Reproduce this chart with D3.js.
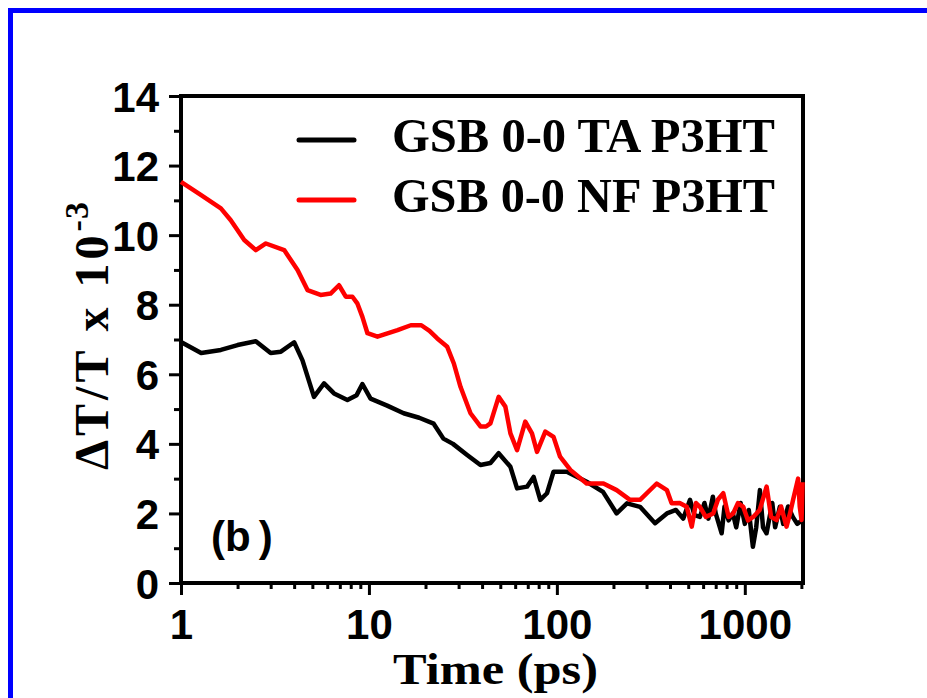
<!DOCTYPE html>
<html>
	<head>
		<meta http-equiv='Content-Type' content='text/html;charset=utf-8'/>
		<title>GSB 0-0 dynamics</title>
		<script src='https://d3js.org/d3.v7.min.js'></script>
		<style>
			body { margin: 0; background: #ffffff; }
		</style>
	</head>

	<body>
		<script>
		'use strict'

		// data: time in ps, dT/T in units of 10^-3
		const taTime = [1, 1.28, 1.63, 2.0, 2.5, 3.0, 3.4, 4.0, 4.43, 5.1, 5.77, 6.52, 7.68, 8.6, 9.23, 10.2, 12.5, 15.3, 18.5, 22.1, 24.9, 28, 33.3, 39.2, 44.3, 49.0, 56.6, 61.4, 69.4, 75.2, 81.6, 88.6, 96, 113, 144, 176, 208, 236, 277, 333, 385, 430, 470, 511, 540, 577, 610, 640, 676, 700, 753, 780, 820, 864, 900, 950, 1000, 1050, 1104, 1150, 1203, 1250, 1305, 1400, 1450, 1536, 1600, 1700, 1800, 1900, 2030]
		const taValue = [6.93, 6.61, 6.70, 6.84, 6.95, 6.61, 6.65, 6.92, 6.40, 5.35, 5.74, 5.45, 5.26, 5.40, 5.72, 5.30, 5.10, 4.88, 4.75, 4.58, 4.15, 4.0, 3.68, 3.39, 3.45, 3.73, 3.34, 2.72, 2.77, 3.05, 2.39, 2.58, 3.2, 3.2, 2.91, 2.62, 2.0, 2.29, 2.19, 1.72, 2.0, 2.1, 1.85, 2.39, 1.95, 1.9, 2.3, 1.85, 2.48, 2.0, 1.43, 2.2, 1.8, 2.0, 1.6, 2.3, 1.7, 2.1, 1.04, 1.6, 2.67, 1.6, 1.43, 2.3, 1.6, 2.19, 1.7, 2.2, 1.9, 1.7, 1.81]

		const nfTime = [1, 1.28, 1.63, 1.84, 2.17, 2.5, 2.83, 3.54, 4.17, 4.71, 5.53, 6.25, 6.93, 7.53, 8.17, 8.67, 9.23, 9.82, 11.1, 14.2, 16.7, 19.0, 21.0, 23.1, 26.1, 28.3, 30.7, 34.7, 39.2, 42.0, 44.3, 49.0, 53.2, 56.6, 61.4, 67.9, 73.7, 78.4, 86.8, 96, 104, 118, 144, 177, 208, 245, 277, 340, 385, 408, 450, 491, 522, 550, 577, 620, 679, 720, 768, 820, 867, 920, 981, 1040, 1109, 1200, 1306, 1380, 1475, 1560, 1667, 1740, 1807, 1922, 1960, 2004, 2030]
		const nfValue = [11.53, 11.15, 10.77, 10.43, 9.86, 9.57, 9.76, 9.57, 9.0, 8.42, 8.28, 8.32, 8.56, 8.23, 8.23, 8.04, 7.65, 7.18, 7.08, 7.27, 7.41, 7.41, 7.25, 7.03, 6.79, 6.31, 5.64, 4.88, 4.50, 4.50, 4.59, 5.35, 5.07, 4.30, 3.82, 4.64, 4.30, 3.77, 4.35, 4.20, 3.63, 3.25, 2.86, 2.86, 2.67, 2.39, 2.39, 2.86, 2.67, 2.29, 2.3, 2.19, 1.62, 2.3, 2.19, 1.9, 2.0, 2.4, 2.58, 1.9, 2.0, 2.3, 2.19, 1.8, 1.9, 2.1, 2.77, 1.9, 1.81, 2.2, 1.62, 2.0, 2.39, 3.0, 2.2, 1.81, 2.9]

		const seriesNames = ['GSB 0-0 TA P3HT', 'GSB 0-0 NF P3HT']
		const seriesColors = ['#000000', '#ff0000']

		const yMajor = [0, 2, 4, 6, 8, 10, 12, 14]
		const yMinor = [1, 3, 5, 7, 9, 11, 13]
		const xMajor = [1, 10, 100, 1000]
		const xMinor = [2, 3, 4, 5, 6, 7, 8, 9, 20, 30, 40, 50, 60, 70, 80, 90, 200, 300, 400, 500, 600, 700, 800, 900, 2000]

		const width = 927
		const height = 698
		const plot = {left: 181, top: 96, right: 803, bottom: 583}

		const svg = d3.select('body').append('svg')
			.attr('width', width)
			.attr('height', height)

		svg.append('rect')
			.attr('width', '100%')
			.attr('height', '100%')
			.attr('fill', '#ffffff')

		// blue frame, cut off at the right and bottom
		svg.append('rect')
			.attr('x', 10.5)
			.attr('y', 10.5)
			.attr('width', 1000)
			.attr('height', 1000)
			.attr('fill', 'none')
			.attr('stroke', '#0000ff')
			.attr('stroke-width', 5)

		const x = d3.scaleLog()
			.domain([1, 2040])
			.range([plot.left, plot.right])

		const y = d3.scaleLinear()
			.domain([0, 14])
			.range([plot.bottom, plot.top])

		drawAxes()
		drawSeries(taTime, taValue, seriesColors[0])
		drawSeries(nfTime, nfValue, seriesColors[1])
		drawLegend()
		drawLabels()

		/**
		 * drawAxes
		 * Box, ticks and tick labels.
		 */
		function drawAxes()
		{
			const left = svg.append('g')
				.attr('transform', 'translate(' + plot.left + ',0)')
			left.call(d3.axisLeft(y).tickValues(yMajor).tickSize(12).tickPadding(10).tickFormat(d3.format('d')))
			left.append('g').call(d3.axisLeft(y).tickValues(yMinor).tickSize(7).tickFormat(''))

			const bottom = svg.append('g')
				.attr('transform', 'translate(0,' + plot.bottom + ')')
			bottom.call(d3.axisBottom(x).tickValues(xMajor).tickSize(12).tickPadding(14).tickFormat(d3.format('d')))
			bottom.append('g').call(d3.axisBottom(x).tickValues(xMinor).tickSize(6).tickFormat(''))

			svg.selectAll('.domain').remove()
			svg.selectAll('.tick line')
				.attr('stroke', '#000000')
				.attr('stroke-width', 3)
			svg.selectAll('.tick text')
				.attr('fill', '#000000')
				.style('font-family', '"Liberation Sans", Arial, sans-serif')
				.style('font-weight', 'bold')
				.style('font-size', '42px')
			left.selectAll('.tick text').attr('dy', '0.36em')

			svg.append('rect')
				.attr('x', plot.left)
				.attr('y', plot.top)
				.attr('width', plot.right - plot.left)
				.attr('height', plot.bottom - plot.top)
				.attr('fill', 'none')
				.attr('stroke', '#000000')
				.attr('stroke-width', 4)
		}

		/**
		 * drawSeries
		 * @param {Array} times in ps
		 * @param {Array} values dT/T x 10^-3
		 * @param {String} colour
		 */
		function drawSeries(times, values, colour)
		{
			const points = times.map(function(t, i) { return {t: t, v: values[i]} })
			const line = d3.line()
				.x(function(d) { return x(d.t) })
				.y(function(d) { return y(d.v) })

			svg.append('path')
				.datum(points)
				.attr('d', line)
				.attr('fill', 'none')
				.attr('stroke', colour)
				.attr('stroke-width', 4.5)
				.attr('stroke-linejoin', 'round')
		}

		/**
		 * drawLegend
		 */
		function drawLegend()
		{
			const rows = [140, 200]
			for (let i = 0; i < seriesNames.length; i++)
			{
				svg.append('line')
					.attr('x1', 299)
					.attr('x2', 354)
					.attr('y1', rows[i])
					.attr('y2', rows[i])
					.attr('stroke', seriesColors[i])
					.attr('stroke-width', 5)
					.attr('stroke-linecap', 'round')

				svg.append('text')
					.attr('x', 392)
					.attr('y', rows[i] + 12)
					.attr('textLength', 383)
					.attr('lengthAdjust', 'spacingAndGlyphs')
					.style('font-family', '"Liberation Serif", "Times New Roman", serif')
					.style('font-weight', 'bold')
					.style('font-size', '49px')
					.text(seriesNames[i])
			}
		}

		/**
		 * drawLabels
		 * Axis titles and panel letter.
		 */
		function drawLabels()
		{
			svg.append('text')
				.attr('x', 393)
				.attr('y', 684)
				.attr('textLength', 205)
				.attr('lengthAdjust', 'spacingAndGlyphs')
				.style('font-family', '"Liberation Serif", "Times New Roman", serif')
				.style('font-weight', 'bold')
				.style('font-size', '45px')
				.text('Time (ps)')

			const yl = svg.append('text')
				.attr('transform', 'translate(108,470) rotate(-90)')
				.style('font-family', '"Liberation Serif", "Times New Roman", serif')
				.style('font-weight', 'bold')
				.style('font-size', '48px')
				.style('letter-spacing', '4px')
			yl.append('tspan').text('ΔT/T x 10')
			yl.append('tspan')
				.attr('dy', -20)
				.style('font-size', '34px')
				.style('letter-spacing', '1px')
				.text('-3')

			const b = svg.append('text')
				.attr('x', 211)
				.attr('y', 551)
				.style('font-family', '"Liberation Sans", Arial, sans-serif')
				.style('font-weight', 'bold')
				.style('font-size', '42px')
			b.append('tspan').text('(b')
			b.append('tspan').attr('dx', 8).text(')')
		}
		</script>
	</body>
</html>
